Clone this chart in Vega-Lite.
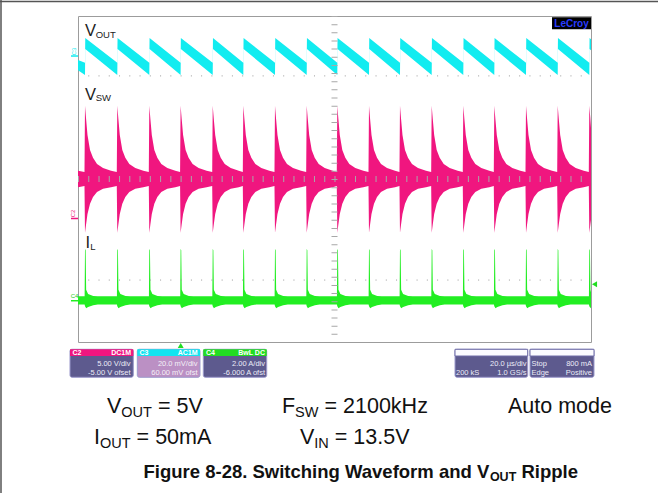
{
"$schema": "https://vega.github.io/schema/vega-lite/v6.json",
"width": 513, "height": 326,
"autosize": {"type": "none"},
"padding": {"left": 78, "top": 16, "right": 67, "bottom": 151},
"background": "white",
"config": {"view": {"stroke": "#9c9c9c", "strokeWidth": 1}, "text": {"font": "Liberation Sans", "baseline": "alphabetic"}},
"datasets": {
"waves": [
{"ch":"VOUT","t":0,"hi":6.92,"lo":6.67},
{"ch":"VOUT","t":2.73,"hi":6.85,"lo":6.55},{"ch":"VOUT","t":2.83,"hi":7.46,"lo":7.19},
{"ch":"VOUT","t":15.32,"hi":6.85,"lo":6.55},{"ch":"VOUT","t":15.42,"hi":7.46,"lo":7.19},
{"ch":"VOUT","t":27.8,"hi":6.85,"lo":6.55},{"ch":"VOUT","t":27.9,"hi":7.46,"lo":7.19},
{"ch":"VOUT","t":40.0,"hi":6.85,"lo":6.55},{"ch":"VOUT","t":40.1,"hi":7.46,"lo":7.19},
{"ch":"VOUT","t":52.52,"hi":6.85,"lo":6.55},{"ch":"VOUT","t":52.62,"hi":7.46,"lo":7.19},
{"ch":"VOUT","t":64.45,"hi":6.85,"lo":6.55},{"ch":"VOUT","t":64.55,"hi":7.46,"lo":7.19},
{"ch":"VOUT","t":76.8,"hi":6.85,"lo":6.55},{"ch":"VOUT","t":76.9,"hi":7.46,"lo":7.19},
{"ch":"VOUT","t":89.16,"hi":6.85,"lo":6.55},{"ch":"VOUT","t":89.26,"hi":7.46,"lo":7.19},
{"ch":"VOUT","t":101.09,"hi":6.85,"lo":6.55},{"ch":"VOUT","t":101.19,"hi":7.46,"lo":7.19},
{"ch":"VOUT","t":113.45,"hi":6.85,"lo":6.55},{"ch":"VOUT","t":113.55,"hi":7.46,"lo":7.19},
{"ch":"VOUT","t":125.53,"hi":6.85,"lo":6.55},{"ch":"VOUT","t":125.63,"hi":7.46,"lo":7.19},
{"ch":"VOUT","t":137.89,"hi":6.85,"lo":6.55},{"ch":"VOUT","t":137.99,"hi":7.46,"lo":7.19},
{"ch":"VOUT","t":150.21,"hi":6.85,"lo":6.55},{"ch":"VOUT","t":150.31,"hi":7.46,"lo":7.19},
{"ch":"VOUT","t":162.3,"hi":6.85,"lo":6.55},{"ch":"VOUT","t":162.4,"hi":7.46,"lo":7.19},
{"ch":"VOUT","t":174.66,"hi":6.85,"lo":6.55},{"ch":"VOUT","t":174.76,"hi":7.46,"lo":7.19},
{"ch":"VOUT","t":187.02,"hi":6.85,"lo":6.55},{"ch":"VOUT","t":187.12,"hi":7.46,"lo":7.19},
{"ch":"VOUT","t":199.34,"hi":6.85,"lo":6.55},{"ch":"VOUT","t":199.44,"hi":7.46,"lo":7.19},
{"ch":"VOUT","t":200,"hi":7.43,"lo":7.16},

{"ch":"VSW","t":0,"hi":4.2,"lo":3.8},
{"ch":"VSW","t":2.53,"hi":4.17,"lo":3.83},{"ch":"VSW","t":2.73,"hi":5.8,"lo":2.68},{"ch":"VSW","t":3.12,"hi":5.5,"lo":2.87},{"ch":"VSW","t":3.7,"hi":5.08,"lo":3.14},{"ch":"VSW","t":4.68,"hi":4.71,"lo":3.39},{"ch":"VSW","t":5.85,"hi":4.52,"lo":3.56},{"ch":"VSW","t":7.41,"hi":4.37,"lo":3.68},{"ch":"VSW","t":9.75,"hi":4.27,"lo":3.76},{"ch":"VSW","t":12.87,"hi":4.2,"lo":3.8},
{"ch":"VSW","t":15.12,"hi":4.17,"lo":3.83},{"ch":"VSW","t":15.32,"hi":5.8,"lo":2.68},{"ch":"VSW","t":15.71,"hi":5.5,"lo":2.87},{"ch":"VSW","t":16.29,"hi":5.08,"lo":3.14},{"ch":"VSW","t":17.27,"hi":4.71,"lo":3.39},{"ch":"VSW","t":18.44,"hi":4.52,"lo":3.56},{"ch":"VSW","t":20.0,"hi":4.37,"lo":3.68},{"ch":"VSW","t":22.34,"hi":4.27,"lo":3.76},{"ch":"VSW","t":25.46,"hi":4.2,"lo":3.8},
{"ch":"VSW","t":27.6,"hi":4.17,"lo":3.83},{"ch":"VSW","t":27.8,"hi":5.8,"lo":2.68},{"ch":"VSW","t":28.19,"hi":5.5,"lo":2.87},{"ch":"VSW","t":28.77,"hi":5.08,"lo":3.14},{"ch":"VSW","t":29.75,"hi":4.71,"lo":3.39},{"ch":"VSW","t":30.92,"hi":4.52,"lo":3.56},{"ch":"VSW","t":32.48,"hi":4.37,"lo":3.68},{"ch":"VSW","t":34.82,"hi":4.27,"lo":3.76},{"ch":"VSW","t":37.94,"hi":4.2,"lo":3.8},
{"ch":"VSW","t":39.8,"hi":4.17,"lo":3.83},{"ch":"VSW","t":40.0,"hi":5.8,"lo":2.68},{"ch":"VSW","t":40.39,"hi":5.5,"lo":2.87},{"ch":"VSW","t":40.97,"hi":5.08,"lo":3.14},{"ch":"VSW","t":41.95,"hi":4.71,"lo":3.39},{"ch":"VSW","t":43.12,"hi":4.52,"lo":3.56},{"ch":"VSW","t":44.68,"hi":4.37,"lo":3.68},{"ch":"VSW","t":47.02,"hi":4.27,"lo":3.76},{"ch":"VSW","t":50.14,"hi":4.2,"lo":3.8},
{"ch":"VSW","t":52.32,"hi":4.17,"lo":3.83},{"ch":"VSW","t":52.52,"hi":5.8,"lo":2.68},{"ch":"VSW","t":52.91,"hi":5.5,"lo":2.87},{"ch":"VSW","t":53.49,"hi":5.08,"lo":3.14},{"ch":"VSW","t":54.47,"hi":4.71,"lo":3.39},{"ch":"VSW","t":55.64,"hi":4.52,"lo":3.56},{"ch":"VSW","t":57.2,"hi":4.37,"lo":3.68},{"ch":"VSW","t":59.54,"hi":4.27,"lo":3.76},{"ch":"VSW","t":62.66,"hi":4.2,"lo":3.8},
{"ch":"VSW","t":64.25,"hi":4.17,"lo":3.83},{"ch":"VSW","t":64.45,"hi":5.8,"lo":2.68},{"ch":"VSW","t":64.84,"hi":5.5,"lo":2.87},{"ch":"VSW","t":65.42,"hi":5.08,"lo":3.14},{"ch":"VSW","t":66.4,"hi":4.71,"lo":3.39},{"ch":"VSW","t":67.57,"hi":4.52,"lo":3.56},{"ch":"VSW","t":69.13,"hi":4.37,"lo":3.68},{"ch":"VSW","t":71.47,"hi":4.27,"lo":3.76},{"ch":"VSW","t":74.59,"hi":4.2,"lo":3.8},
{"ch":"VSW","t":76.6,"hi":4.17,"lo":3.83},{"ch":"VSW","t":76.8,"hi":5.8,"lo":2.68},{"ch":"VSW","t":77.19,"hi":5.5,"lo":2.87},{"ch":"VSW","t":77.77,"hi":5.08,"lo":3.14},{"ch":"VSW","t":78.75,"hi":4.71,"lo":3.39},{"ch":"VSW","t":79.92,"hi":4.52,"lo":3.56},{"ch":"VSW","t":81.48,"hi":4.37,"lo":3.68},{"ch":"VSW","t":83.82,"hi":4.27,"lo":3.76},{"ch":"VSW","t":86.94,"hi":4.2,"lo":3.8},
{"ch":"VSW","t":88.96,"hi":4.17,"lo":3.83},{"ch":"VSW","t":89.16,"hi":5.8,"lo":2.68},{"ch":"VSW","t":89.55,"hi":5.5,"lo":2.87},{"ch":"VSW","t":90.13,"hi":5.08,"lo":3.14},{"ch":"VSW","t":91.11,"hi":4.71,"lo":3.39},{"ch":"VSW","t":92.28,"hi":4.52,"lo":3.56},{"ch":"VSW","t":93.84,"hi":4.37,"lo":3.68},{"ch":"VSW","t":96.18,"hi":4.27,"lo":3.76},{"ch":"VSW","t":99.3,"hi":4.2,"lo":3.8},
{"ch":"VSW","t":100.89,"hi":4.17,"lo":3.83},{"ch":"VSW","t":101.09,"hi":5.8,"lo":2.68},{"ch":"VSW","t":101.48,"hi":5.5,"lo":2.87},{"ch":"VSW","t":102.06,"hi":5.08,"lo":3.14},{"ch":"VSW","t":103.04,"hi":4.71,"lo":3.39},{"ch":"VSW","t":104.21,"hi":4.52,"lo":3.56},{"ch":"VSW","t":105.77,"hi":4.37,"lo":3.68},{"ch":"VSW","t":108.11,"hi":4.27,"lo":3.76},{"ch":"VSW","t":111.23,"hi":4.2,"lo":3.8},
{"ch":"VSW","t":113.25,"hi":4.17,"lo":3.83},{"ch":"VSW","t":113.45,"hi":5.8,"lo":2.68},{"ch":"VSW","t":113.84,"hi":5.5,"lo":2.87},{"ch":"VSW","t":114.42,"hi":5.08,"lo":3.14},{"ch":"VSW","t":115.4,"hi":4.71,"lo":3.39},{"ch":"VSW","t":116.57,"hi":4.52,"lo":3.56},{"ch":"VSW","t":118.13,"hi":4.37,"lo":3.68},{"ch":"VSW","t":120.47,"hi":4.27,"lo":3.76},{"ch":"VSW","t":123.59,"hi":4.2,"lo":3.8},
{"ch":"VSW","t":125.33,"hi":4.17,"lo":3.83},{"ch":"VSW","t":125.53,"hi":5.8,"lo":2.68},{"ch":"VSW","t":125.92,"hi":5.5,"lo":2.87},{"ch":"VSW","t":126.5,"hi":5.08,"lo":3.14},{"ch":"VSW","t":127.48,"hi":4.71,"lo":3.39},{"ch":"VSW","t":128.65,"hi":4.52,"lo":3.56},{"ch":"VSW","t":130.21,"hi":4.37,"lo":3.68},{"ch":"VSW","t":132.55,"hi":4.27,"lo":3.76},{"ch":"VSW","t":135.67,"hi":4.2,"lo":3.8},
{"ch":"VSW","t":137.69,"hi":4.17,"lo":3.83},{"ch":"VSW","t":137.89,"hi":5.8,"lo":2.68},{"ch":"VSW","t":138.28,"hi":5.5,"lo":2.87},{"ch":"VSW","t":138.86,"hi":5.08,"lo":3.14},{"ch":"VSW","t":139.84,"hi":4.71,"lo":3.39},{"ch":"VSW","t":141.01,"hi":4.52,"lo":3.56},{"ch":"VSW","t":142.57,"hi":4.37,"lo":3.68},{"ch":"VSW","t":144.91,"hi":4.27,"lo":3.76},{"ch":"VSW","t":148.03,"hi":4.2,"lo":3.8},
{"ch":"VSW","t":150.01,"hi":4.17,"lo":3.83},{"ch":"VSW","t":150.21,"hi":5.8,"lo":2.68},{"ch":"VSW","t":150.6,"hi":5.5,"lo":2.87},{"ch":"VSW","t":151.18,"hi":5.08,"lo":3.14},{"ch":"VSW","t":152.16,"hi":4.71,"lo":3.39},{"ch":"VSW","t":153.33,"hi":4.52,"lo":3.56},{"ch":"VSW","t":154.89,"hi":4.37,"lo":3.68},{"ch":"VSW","t":157.23,"hi":4.27,"lo":3.76},{"ch":"VSW","t":160.35,"hi":4.2,"lo":3.8},
{"ch":"VSW","t":162.1,"hi":4.17,"lo":3.83},{"ch":"VSW","t":162.3,"hi":5.8,"lo":2.68},{"ch":"VSW","t":162.69,"hi":5.5,"lo":2.87},{"ch":"VSW","t":163.27,"hi":5.08,"lo":3.14},{"ch":"VSW","t":164.25,"hi":4.71,"lo":3.39},{"ch":"VSW","t":165.42,"hi":4.52,"lo":3.56},{"ch":"VSW","t":166.98,"hi":4.37,"lo":3.68},{"ch":"VSW","t":169.32,"hi":4.27,"lo":3.76},{"ch":"VSW","t":172.44,"hi":4.2,"lo":3.8},
{"ch":"VSW","t":174.46,"hi":4.17,"lo":3.83},{"ch":"VSW","t":174.66,"hi":5.8,"lo":2.68},{"ch":"VSW","t":175.05,"hi":5.5,"lo":2.87},{"ch":"VSW","t":175.63,"hi":5.08,"lo":3.14},{"ch":"VSW","t":176.61,"hi":4.71,"lo":3.39},{"ch":"VSW","t":177.78,"hi":4.52,"lo":3.56},{"ch":"VSW","t":179.34,"hi":4.37,"lo":3.68},{"ch":"VSW","t":181.68,"hi":4.27,"lo":3.76},{"ch":"VSW","t":184.8,"hi":4.2,"lo":3.8},
{"ch":"VSW","t":186.82,"hi":4.17,"lo":3.83},{"ch":"VSW","t":187.02,"hi":5.8,"lo":2.68},{"ch":"VSW","t":187.41,"hi":5.5,"lo":2.87},{"ch":"VSW","t":187.99,"hi":5.08,"lo":3.14},{"ch":"VSW","t":188.97,"hi":4.71,"lo":3.39},{"ch":"VSW","t":190.14,"hi":4.52,"lo":3.56},{"ch":"VSW","t":191.7,"hi":4.37,"lo":3.68},{"ch":"VSW","t":194.04,"hi":4.27,"lo":3.76},{"ch":"VSW","t":197.16,"hi":4.2,"lo":3.8},
{"ch":"VSW","t":199.14,"hi":4.17,"lo":3.83},{"ch":"VSW","t":199.34,"hi":5.8,"lo":2.68},{"ch":"VSW","t":199.73,"hi":5.5,"lo":2.87},{"ch":"VSW","t":200,"hi":5.25,"lo":3.0},

{"ch":"IL","t":0,"hi":1.12,"lo":0.92},
{"ch":"IL","t":2.58,"hi":1.12,"lo":0.92},{"ch":"IL","t":2.73,"hi":2.28,"lo":0.88},{"ch":"IL","t":2.98,"hi":2.25,"lo":0.85},{"ch":"IL","t":3.18,"hi":1.28,"lo":0.83},{"ch":"IL","t":3.93,"hi":1.18,"lo":0.86},{"ch":"IL","t":5.93,"hi":1.13,"lo":0.9},{"ch":"IL","t":7.73,"hi":1.12,"lo":0.92},
{"ch":"IL","t":15.17,"hi":1.12,"lo":0.92},{"ch":"IL","t":15.32,"hi":2.28,"lo":0.88},{"ch":"IL","t":15.57,"hi":2.25,"lo":0.85},{"ch":"IL","t":15.77,"hi":1.28,"lo":0.83},{"ch":"IL","t":16.52,"hi":1.18,"lo":0.86},{"ch":"IL","t":18.52,"hi":1.13,"lo":0.9},{"ch":"IL","t":20.32,"hi":1.12,"lo":0.92},
{"ch":"IL","t":27.65,"hi":1.12,"lo":0.92},{"ch":"IL","t":27.8,"hi":2.28,"lo":0.88},{"ch":"IL","t":28.05,"hi":2.25,"lo":0.85},{"ch":"IL","t":28.25,"hi":1.28,"lo":0.83},{"ch":"IL","t":29.0,"hi":1.18,"lo":0.86},{"ch":"IL","t":31.0,"hi":1.13,"lo":0.9},{"ch":"IL","t":32.8,"hi":1.12,"lo":0.92},
{"ch":"IL","t":39.85,"hi":1.12,"lo":0.92},{"ch":"IL","t":40.0,"hi":2.28,"lo":0.88},{"ch":"IL","t":40.25,"hi":2.25,"lo":0.85},{"ch":"IL","t":40.45,"hi":1.28,"lo":0.83},{"ch":"IL","t":41.2,"hi":1.18,"lo":0.86},{"ch":"IL","t":43.2,"hi":1.13,"lo":0.9},{"ch":"IL","t":45.0,"hi":1.12,"lo":0.92},
{"ch":"IL","t":52.37,"hi":1.12,"lo":0.92},{"ch":"IL","t":52.52,"hi":2.28,"lo":0.88},{"ch":"IL","t":52.77,"hi":2.25,"lo":0.85},{"ch":"IL","t":52.97,"hi":1.28,"lo":0.83},{"ch":"IL","t":53.72,"hi":1.18,"lo":0.86},{"ch":"IL","t":55.72,"hi":1.13,"lo":0.9},{"ch":"IL","t":57.52,"hi":1.12,"lo":0.92},
{"ch":"IL","t":64.3,"hi":1.12,"lo":0.92},{"ch":"IL","t":64.45,"hi":2.28,"lo":0.88},{"ch":"IL","t":64.7,"hi":2.25,"lo":0.85},{"ch":"IL","t":64.9,"hi":1.28,"lo":0.83},{"ch":"IL","t":65.65,"hi":1.18,"lo":0.86},{"ch":"IL","t":67.65,"hi":1.13,"lo":0.9},{"ch":"IL","t":69.45,"hi":1.12,"lo":0.92},
{"ch":"IL","t":76.65,"hi":1.12,"lo":0.92},{"ch":"IL","t":76.8,"hi":2.28,"lo":0.88},{"ch":"IL","t":77.05,"hi":2.25,"lo":0.85},{"ch":"IL","t":77.25,"hi":1.28,"lo":0.83},{"ch":"IL","t":78.0,"hi":1.18,"lo":0.86},{"ch":"IL","t":80.0,"hi":1.13,"lo":0.9},{"ch":"IL","t":81.8,"hi":1.12,"lo":0.92},
{"ch":"IL","t":89.01,"hi":1.12,"lo":0.92},{"ch":"IL","t":89.16,"hi":2.28,"lo":0.88},{"ch":"IL","t":89.41,"hi":2.25,"lo":0.85},{"ch":"IL","t":89.61,"hi":1.28,"lo":0.83},{"ch":"IL","t":90.36,"hi":1.18,"lo":0.86},{"ch":"IL","t":92.36,"hi":1.13,"lo":0.9},{"ch":"IL","t":94.16,"hi":1.12,"lo":0.92},
{"ch":"IL","t":100.94,"hi":1.12,"lo":0.92},{"ch":"IL","t":101.09,"hi":2.28,"lo":0.88},{"ch":"IL","t":101.34,"hi":2.25,"lo":0.85},{"ch":"IL","t":101.54,"hi":1.28,"lo":0.83},{"ch":"IL","t":102.29,"hi":1.18,"lo":0.86},{"ch":"IL","t":104.29,"hi":1.13,"lo":0.9},{"ch":"IL","t":106.09,"hi":1.12,"lo":0.92},
{"ch":"IL","t":113.3,"hi":1.12,"lo":0.92},{"ch":"IL","t":113.45,"hi":2.28,"lo":0.88},{"ch":"IL","t":113.7,"hi":2.25,"lo":0.85},{"ch":"IL","t":113.9,"hi":1.28,"lo":0.83},{"ch":"IL","t":114.65,"hi":1.18,"lo":0.86},{"ch":"IL","t":116.65,"hi":1.13,"lo":0.9},{"ch":"IL","t":118.45,"hi":1.12,"lo":0.92},
{"ch":"IL","t":125.38,"hi":1.12,"lo":0.92},{"ch":"IL","t":125.53,"hi":2.28,"lo":0.88},{"ch":"IL","t":125.78,"hi":2.25,"lo":0.85},{"ch":"IL","t":125.98,"hi":1.28,"lo":0.83},{"ch":"IL","t":126.73,"hi":1.18,"lo":0.86},{"ch":"IL","t":128.73,"hi":1.13,"lo":0.9},{"ch":"IL","t":130.53,"hi":1.12,"lo":0.92},
{"ch":"IL","t":137.74,"hi":1.12,"lo":0.92},{"ch":"IL","t":137.89,"hi":2.28,"lo":0.88},{"ch":"IL","t":138.14,"hi":2.25,"lo":0.85},{"ch":"IL","t":138.34,"hi":1.28,"lo":0.83},{"ch":"IL","t":139.09,"hi":1.18,"lo":0.86},{"ch":"IL","t":141.09,"hi":1.13,"lo":0.9},{"ch":"IL","t":142.89,"hi":1.12,"lo":0.92},
{"ch":"IL","t":150.06,"hi":1.12,"lo":0.92},{"ch":"IL","t":150.21,"hi":2.28,"lo":0.88},{"ch":"IL","t":150.46,"hi":2.25,"lo":0.85},{"ch":"IL","t":150.66,"hi":1.28,"lo":0.83},{"ch":"IL","t":151.41,"hi":1.18,"lo":0.86},{"ch":"IL","t":153.41,"hi":1.13,"lo":0.9},{"ch":"IL","t":155.21,"hi":1.12,"lo":0.92},
{"ch":"IL","t":162.15,"hi":1.12,"lo":0.92},{"ch":"IL","t":162.3,"hi":2.28,"lo":0.88},{"ch":"IL","t":162.55,"hi":2.25,"lo":0.85},{"ch":"IL","t":162.75,"hi":1.28,"lo":0.83},{"ch":"IL","t":163.5,"hi":1.18,"lo":0.86},{"ch":"IL","t":165.5,"hi":1.13,"lo":0.9},{"ch":"IL","t":167.3,"hi":1.12,"lo":0.92},
{"ch":"IL","t":174.51,"hi":1.12,"lo":0.92},{"ch":"IL","t":174.66,"hi":2.28,"lo":0.88},{"ch":"IL","t":174.91,"hi":2.25,"lo":0.85},{"ch":"IL","t":175.11,"hi":1.28,"lo":0.83},{"ch":"IL","t":175.86,"hi":1.18,"lo":0.86},{"ch":"IL","t":177.86,"hi":1.13,"lo":0.9},{"ch":"IL","t":179.66,"hi":1.12,"lo":0.92},
{"ch":"IL","t":186.87,"hi":1.12,"lo":0.92},{"ch":"IL","t":187.02,"hi":2.28,"lo":0.88},{"ch":"IL","t":187.27,"hi":2.25,"lo":0.85},{"ch":"IL","t":187.47,"hi":1.28,"lo":0.83},{"ch":"IL","t":188.22,"hi":1.18,"lo":0.86},{"ch":"IL","t":190.22,"hi":1.13,"lo":0.9},{"ch":"IL","t":192.02,"hi":1.12,"lo":0.92},
{"ch":"IL","t":199.19,"hi":1.12,"lo":0.92},{"ch":"IL","t":199.34,"hi":2.28,"lo":0.88},{"ch":"IL","t":199.59,"hi":2.25,"lo":0.85},{"ch":"IL","t":199.79,"hi":1.28,"lo":0.83},{"ch":"IL","t":200,"hi":1.22,"lo":0.85}
]
},
"layer": [
{"data":{"name":"waves"},
 "mark":{"type":"area","interpolate":"linear"},
 "encoding":{
  "x":{"field":"t","type":"quantitative","scale":{"domain":[0,200],"nice":false,"zero":false},"axis":{"values":[20,40,60,80,100,120,140,160,180],"grid":true,"gridColor":"#cccccc","gridWidth":1,"ticks":false,"labels":false,"domain":false,"title":null}},
  "y":{"field":"hi","type":"quantitative","stack":null,"scale":{"domain":[0,8],"nice":false,"zero":false},"axis":{"values":[1,2,3,4,5,6,7],"grid":true,"gridColor":"#cccccc","gridWidth":1,"ticks":false,"labels":false,"domain":false,"title":null}},
  "y2":{"field":"lo"},
  "color":{"field":"ch","type":"nominal","scale":{"domain":["VOUT","VSW","IL"],"range":["#12ecf0","#f0167f","#22ee22"]},"legend":null}
 }},
{"data":{"values":[{}]},"mark":{"type":"rule","color":"#555555","strokeWidth":1.5},"encoding":{"x":{"datum":-30.41,"axis":null},"x2":{"datum":226.12},"y":{"datum":8.356,"axis":null}}},
{"data":{"values":[{}]},"mark":{"type":"rule","color":"#555555","strokeWidth":1.5},"encoding":{"x":{"datum":-30.02,"axis":null},"y":{"datum":8.39,"axis":null},"y2":{"datum":-3.71}}},
{"data":{"values":[{}]},"mark":{"type":"rule","color":"#9a9a9a","strokeWidth":1,"strokeDash":[1,9.26]},"encoding":{"x":{"datum":0,"axis":null},"x2":{"datum":200},"y":{"datum":6.53,"axis":null}}},
{"data":{"values":[{}]},"mark":{"type":"rule","color":"#9a9a9a","strokeWidth":1,"strokeDash":[1,9.26]},"encoding":{"x":{"datum":0,"axis":null},"x2":{"datum":200},"y":{"datum":1.52,"axis":null}}},
{"data":{"values":[{}]},"mark":{"type":"rule","color":"#a8a8a8","strokeWidth":6,"strokeDash":[1,9.26]},"encoding":{"x":{"datum":0,"axis":null},"x2":{"datum":200},"y":{"datum":4,"axis":null}}},
{"data":{"values":[{}]},"mark":{"type":"rule","color":"#a8a8a8","strokeWidth":6,"strokeDash":[1,7.15]},"encoding":{"x":{"datum":100,"axis":null},"y":{"datum":8,"axis":null},"y2":{"datum":0}}},

{"data":{"values":[{}]},"mark":{"type":"text","text":"V","fontSize":16.5,"align":"left","color":"#222222"},"encoding":{"x":{"datum":2.73,"axis":null},"y":{"datum":7.497,"axis":null}}},
{"data":{"values":[{}]},"mark":{"type":"text","text":"OUT","fontSize":9.5,"align":"left","color":"#222222"},"encoding":{"x":{"datum":6.9,"axis":null},"y":{"datum":7.472,"axis":null}}},
{"data":{"values":[{}]},"mark":{"type":"text","text":"V","fontSize":16.5,"align":"left","color":"#222222"},"encoding":{"x":{"datum":2.73,"axis":null},"y":{"datum":5.939,"axis":null}}},
{"data":{"values":[{}]},"mark":{"type":"text","text":"SW","fontSize":9.5,"align":"left","color":"#222222"},"encoding":{"x":{"datum":6.9,"axis":null},"y":{"datum":5.914,"axis":null}}},
{"data":{"values":[{}]},"mark":{"type":"text","text":"I","fontSize":16.5,"align":"left","color":"#222222"},"encoding":{"x":{"datum":2.924,"axis":null},"y":{"datum":2.307,"axis":null}}},
{"data":{"values":[{}]},"mark":{"type":"text","text":"L","fontSize":9.5,"align":"left","color":"#222222"},"encoding":{"x":{"datum":4.75,"axis":null},"y":{"datum":2.258,"axis":null}}},

{"data":{"values":[{}]},"mark":{"type":"rect","color":"#000000"},"encoding":{"x":{"datum":184.8,"axis":null},"x2":{"datum":200},"y":{"datum":7.968,"axis":null},"y2":{"datum":7.674}}},
{"data":{"values":[{}]},"mark":{"type":"text","text":"LeCroy","fontSize":10,"fontWeight":"bold","align":"center","color":"#2a3cff"},"encoding":{"x":{"datum":192.4,"axis":null},"y":{"datum":7.72,"axis":null}}},

{"data":{"values":[{}]},"mark":{"type":"rule","color":"#12ecf0","strokeWidth":1.5},"encoding":{"x":{"datum":-2.73,"axis":null},"x2":{"datum":0},"y":{"datum":7.018,"axis":null}}},
{"data":{"values":[{}]},"mark":{"type":"text","text":"C3","fontSize":6,"angle":270,"align":"center","baseline":"middle","color":"#12ecf0"},"encoding":{"x":{"datum":-1.754,"axis":null},"y":{"datum":7.129,"axis":null}}},
{"data":{"values":[{}]},"mark":{"type":"rule","color":"#f0167f","strokeWidth":1.5},"encoding":{"x":{"datum":-2.73,"axis":null},"x2":{"datum":0},"y":{"datum":3.031,"axis":null}}},
{"data":{"values":[{}]},"mark":{"type":"text","text":"C2","fontSize":6,"angle":270,"align":"center","baseline":"middle","color":"#f0167f"},"encoding":{"x":{"datum":-2.144,"axis":null},"y":{"datum":3.153,"axis":null}}},
{"data":{"values":[{}]},"mark":{"type":"rule","color":"#22ee22","strokeWidth":1.5},"encoding":{"x":{"datum":-2.73,"axis":null},"x2":{"datum":0},"y":{"datum":1.013,"axis":null}}},
{"data":{"values":[{}]},"mark":{"type":"text","text":"C4","fontSize":6,"align":"center","baseline":"bottom","color":"#22cc22"},"encoding":{"x":{"datum":-1.365,"axis":null},"y":{"datum":1.05,"axis":null}}},

{"data":{"values":[{}]},"mark":{"type":"point","shape":"triangle-up","filled":true,"size":35,"opacity":1,"color":"#22dd22"},"encoding":{"x":{"datum":40.04,"axis":null},"y":{"datum":-0.086,"axis":null}}},
{"data":{"values":[{}]},"mark":{"type":"point","shape":"triangle-left","filled":true,"size":35,"opacity":1,"color":"#22dd22"},"encoding":{"x":{"datum":201.37,"axis":null},"y":{"datum":1.416,"axis":null}}},

{"data":{"values":[{}]},"mark":{"type":"rect","color":"#5d5a8e","stroke":"#9c9acc","strokeWidth":1,"cornerRadius":2},"encoding":{"x":{"datum":-3.119,"axis":null},"x2":{"datum":21.56},"y":{"datum":-0.179,"axis":null},"y2":{"datum":-0.866}}},
{"data":{"values":[{}]},"mark":{"type":"rect","color":"#f0167f"},"encoding":{"x":{"datum":-3.119,"axis":null},"x2":{"datum":21.56},"y":{"datum":-0.179,"axis":null},"y2":{"datum":-0.344}}},
{"data":{"values":[{}]},"mark":{"type":"rect","color":"#bb90c4","stroke":"#9c9acc","strokeWidth":1,"cornerRadius":2},"encoding":{"x":{"datum":23.12,"axis":null},"x2":{"datum":47.56},"y":{"datum":-0.179,"axis":null},"y2":{"datum":-0.866}}},
{"data":{"values":[{}]},"mark":{"type":"rect","color":"#12e4f0"},"encoding":{"x":{"datum":23.12,"axis":null},"x2":{"datum":47.56},"y":{"datum":-0.179,"axis":null},"y2":{"datum":-0.344}}},
{"data":{"values":[{}]},"mark":{"type":"rect","color":"#5d5a8e","stroke":"#9c9acc","strokeWidth":1,"cornerRadius":2},"encoding":{"x":{"datum":48.85,"axis":null},"x2":{"datum":73.57},"y":{"datum":-0.179,"axis":null},"y2":{"datum":-0.866}}},
{"data":{"values":[{}]},"mark":{"type":"rect","color":"#22dd22"},"encoding":{"x":{"datum":48.85,"axis":null},"x2":{"datum":73.57},"y":{"datum":-0.179,"axis":null},"y2":{"datum":-0.344}}},
{"data":{"values":[{}]},"mark":{"type":"rect","color":"#5d5a8e","stroke":"#9c9acc","strokeWidth":1,"cornerRadius":2},"encoding":{"x":{"datum":146.98,"axis":null},"x2":{"datum":175.32},"y":{"datum":-0.179,"axis":null},"y2":{"datum":-0.866}}},
{"data":{"values":[{}]},"mark":{"type":"rect","color":"#fbfbff","stroke":"#6d6aa6","strokeWidth":1},"encoding":{"x":{"datum":146.98,"axis":null},"x2":{"datum":175.32},"y":{"datum":-0.179,"axis":null},"y2":{"datum":-0.344}}},
{"data":{"values":[{}]},"mark":{"type":"rect","color":"#5d5a8e","stroke":"#9c9acc","strokeWidth":1,"cornerRadius":2},"encoding":{"x":{"datum":176.22,"axis":null},"x2":{"datum":201.17},"y":{"datum":-0.179,"axis":null},"y2":{"datum":-0.866}}},
{"data":{"values":[{}]},"mark":{"type":"rect","color":"#fbfbff","stroke":"#6d6aa6","strokeWidth":1},"encoding":{"x":{"datum":176.22,"axis":null},"x2":{"datum":201.17},"y":{"datum":-0.179,"axis":null},"y2":{"datum":-0.344}}},

{"data":{"values":[{}]},"mark":{"type":"text","text":"C2","fontSize":7,"fontWeight":"bold","align":"left","color":"#ffffff"},"encoding":{"x":{"datum":-2.144,"axis":null},"y":{"datum":-0.319,"axis":null}}},
{"data":{"values":[{}]},"mark":{"type":"text","text":"DC1M","fontSize":7,"fontWeight":"bold","align":"right","color":"#ffffff"},"encoding":{"x":{"datum":20.66,"axis":null},"y":{"datum":-0.319,"axis":null}}},
{"data":{"values":[{}]},"mark":{"type":"text","text":"C3","fontSize":7,"fontWeight":"bold","align":"left","color":"#ffffff"},"encoding":{"x":{"datum":23.98,"axis":null},"y":{"datum":-0.319,"axis":null}}},
{"data":{"values":[{}]},"mark":{"type":"text","text":"AC1M","fontSize":7,"fontWeight":"bold","align":"right","color":"#ffffff"},"encoding":{"x":{"datum":46.59,"axis":null},"y":{"datum":-0.319,"axis":null}}},
{"data":{"values":[{}]},"mark":{"type":"text","text":"C4","fontSize":7,"fontWeight":"bold","align":"left","color":"#ffffff"},"encoding":{"x":{"datum":49.9,"axis":null},"y":{"datum":-0.319,"axis":null}}},
{"data":{"values":[{}]},"mark":{"type":"text","text":"BwL  DC","fontSize":7,"fontWeight":"bold","align":"right","color":"#ffffff"},"encoding":{"x":{"datum":72.9,"axis":null},"y":{"datum":-0.319,"axis":null}}},

{"data":{"values":[{}]},"mark":{"type":"text","text":["5.00 V/div","-5.00 V ofset"],"fontSize":7.5,"lineHeight":9,"align":"right","color":"#ececf8"},"encoding":{"x":{"datum":20.47,"axis":null},"y":{"datum":-0.589,"axis":null}}},
{"data":{"values":[{}]},"mark":{"type":"text","text":["20.0 mV/div","60.00 mV ofst"],"fontSize":7.5,"lineHeight":9,"align":"right","color":"#f4f0f8"},"encoding":{"x":{"datum":46.59,"axis":null},"y":{"datum":-0.589,"axis":null}}},
{"data":{"values":[{}]},"mark":{"type":"text","text":["2.00 A/div","-6.000 A ofst"],"fontSize":7.5,"lineHeight":9,"align":"right","color":"#ececf8"},"encoding":{"x":{"datum":72.9,"axis":null},"y":{"datum":-0.589,"axis":null}}},
{"data":{"values":[{}]},"mark":{"type":"text","text":["20.0 µs/div","1.0 GS/s"],"fontSize":7.5,"lineHeight":9,"align":"right","color":"#ececf8"},"encoding":{"x":{"datum":174.86,"axis":null},"y":{"datum":-0.589,"axis":null}}},
{"data":{"values":[{}]},"mark":{"type":"text","text":"200 kS","fontSize":7.5,"align":"left","color":"#ececf8"},"encoding":{"x":{"datum":147.37,"axis":null},"y":{"datum":-0.81,"axis":null}}},
{"data":{"values":[{}]},"mark":{"type":"text","text":["Stop","Edge"],"fontSize":7.5,"lineHeight":9,"align":"left","color":"#ececf8"},"encoding":{"x":{"datum":176.8,"axis":null},"y":{"datum":-0.589,"axis":null}}},
{"data":{"values":[{}]},"mark":{"type":"text","text":["800 mA","Positive"],"fontSize":7.5,"lineHeight":9,"align":"right","color":"#ececf8"},"encoding":{"x":{"datum":200.39,"axis":null},"y":{"datum":-0.589,"axis":null}}},

{"data":{"values":[{}]},"mark":{"type":"text","text":"V","fontSize":21.5,"align":"left","color":"#111111"},"encoding":{"x":{"datum":11.31,"axis":null},"y":{"datum":-1.742,"axis":null}}},
{"data":{"values":[{}]},"mark":{"type":"text","text":"OUT","fontSize":14.5,"align":"left","color":"#111111"},"encoding":{"x":{"datum":16.88,"axis":null},"y":{"datum":-1.84,"axis":null}}},
{"data":{"values":[{}]},"mark":{"type":"text","text":"= 5V","fontSize":21.5,"align":"left","color":"#111111"},"encoding":{"x":{"datum":31.15,"axis":null},"y":{"datum":-1.742,"axis":null}}},
{"data":{"values":[{}]},"mark":{"type":"text","text":"F","fontSize":21.5,"align":"left","color":"#111111"},"encoding":{"x":{"datum":79.53,"axis":null},"y":{"datum":-1.742,"axis":null}}},
{"data":{"values":[{}]},"mark":{"type":"text","text":"SW","fontSize":14.5,"align":"left","color":"#111111"},"encoding":{"x":{"datum":84.64,"axis":null},"y":{"datum":-1.84,"axis":null}}},
{"data":{"values":[{}]},"mark":{"type":"text","text":"= 2100kHz","fontSize":21.5,"align":"left","color":"#111111"},"encoding":{"x":{"datum":96.1,"axis":null},"y":{"datum":-1.742,"axis":null}}},
{"data":{"values":[{}]},"mark":{"type":"text","text":"Auto mode","fontSize":21.5,"align":"left","color":"#111111"},"encoding":{"x":{"datum":167.64,"axis":null},"y":{"datum":-1.742,"axis":null}}},
{"data":{"values":[{}]},"mark":{"type":"text","text":"I","fontSize":21.5,"align":"left","color":"#111111"},"encoding":{"x":{"datum":6.24,"axis":null},"y":{"datum":-2.503,"axis":null}}},
{"data":{"values":[{}]},"mark":{"type":"text","text":"OUT","fontSize":14.5,"align":"left","color":"#111111"},"encoding":{"x":{"datum":8.58,"axis":null},"y":{"datum":-2.601,"axis":null}}},
{"data":{"values":[{}]},"mark":{"type":"text","text":"= 50mA","fontSize":21.5,"align":"left","color":"#111111"},"encoding":{"x":{"datum":22.85,"axis":null},"y":{"datum":-2.503,"axis":null}}},
{"data":{"values":[{}]},"mark":{"type":"text","text":"V","fontSize":21.5,"align":"left","color":"#111111"},"encoding":{"x":{"datum":86.55,"axis":null},"y":{"datum":-2.503,"axis":null}}},
{"data":{"values":[{}]},"mark":{"type":"text","text":"IN","fontSize":14.5,"align":"left","color":"#111111"},"encoding":{"x":{"datum":92.12,"axis":null},"y":{"datum":-2.601,"axis":null}}},
{"data":{"values":[{}]},"mark":{"type":"text","text":"= 13.5V","fontSize":21.5,"align":"left","color":"#111111"},"encoding":{"x":{"datum":100.12,"axis":null},"y":{"datum":-2.503,"axis":null}}},
{"data":{"values":[{}]},"mark":{"type":"text","text":"Figure 8-28. Switching Waveform and V","fontSize":18.5,"fontWeight":"bold","align":"left","color":"#111111"},"encoding":{"x":{"datum":25.54,"axis":null},"y":{"datum":-3.337,"axis":null}}},
{"data":{"values":[{}]},"mark":{"type":"text","text":"OUT","fontSize":12.5,"fontWeight":"bold","align":"left","color":"#111111"},"encoding":{"x":{"datum":160.58,"axis":null},"y":{"datum":-3.423,"axis":null}}},
{"data":{"values":[{}]},"mark":{"type":"text","text":"Ripple","fontSize":18.5,"fontWeight":"bold","align":"left","color":"#111111"},"encoding":{"x":{"datum":172.87,"axis":null},"y":{"datum":-3.337,"axis":null}}}
]
}
